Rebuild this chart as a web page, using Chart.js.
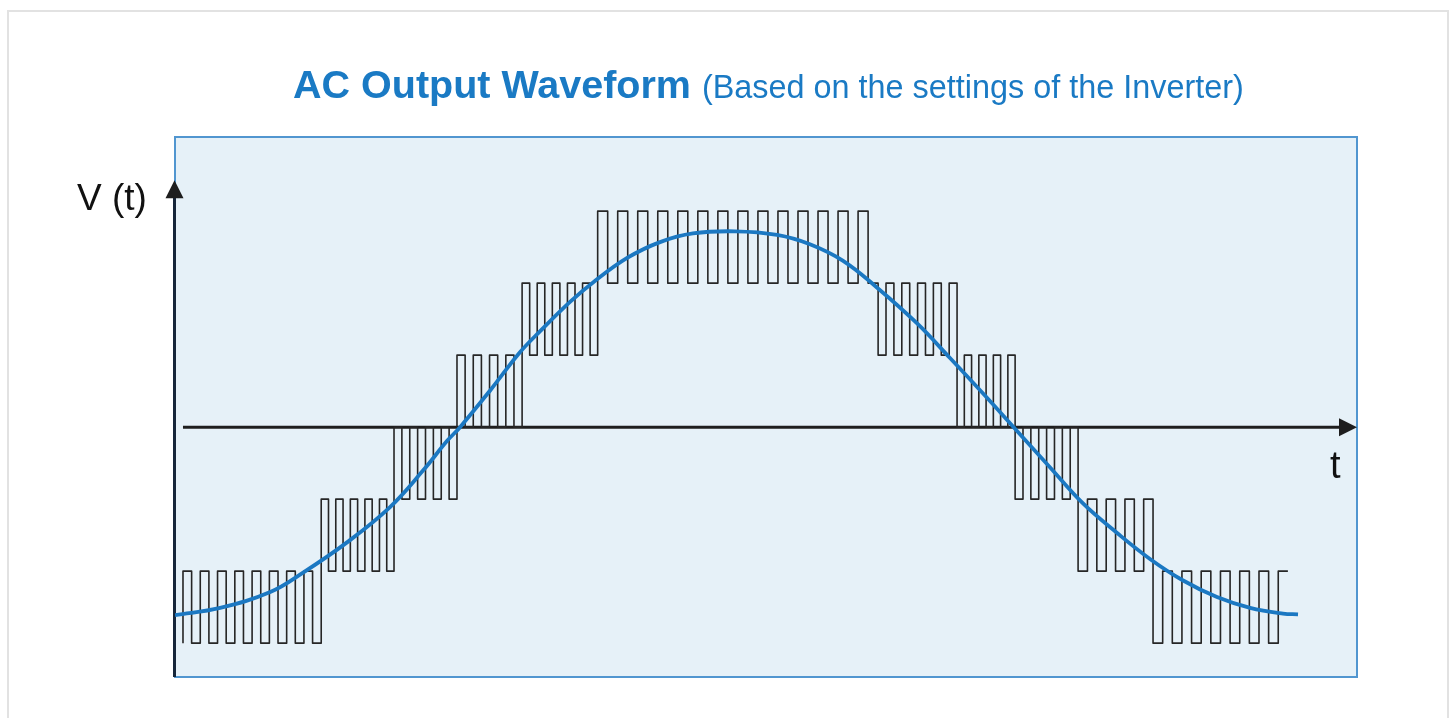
<!DOCTYPE html>
<html>
<head>
<meta charset="utf-8">
<title>AC Output Waveform</title>
<script src="https://cdn.jsdelivr.net/npm/chart.js@4.4.0/dist/chart.umd.min.js"></script>
<style>
	html, body { margin: 0; padding: 0; background: #fff; }
	body { width: 1450px; height: 718px; position: relative; overflow: hidden; font-family: "Liberation Sans", Arial, sans-serif; }
	#frame { position: absolute; left: 7px; top: 10px; width: 1438px; height: 720px; border: 2px solid #e2e2e2; border-bottom: none; }
	#wrap { position: absolute; left: 0; top: 0; width: 1450px; height: 718px; }
	.lbl { position: absolute; white-space: nowrap; }
	#title { left: 293px; top: 65px; font-size: 39.5px; line-height: 39px; font-weight: bold; color: #1a7ac4; }
	#title span { font-size: 32.4px; font-weight: normal; }
	#vlabel { left: 77px; top: 179px; font-size: 37px; line-height: 37px; color: #111; }
	#tlabel { left: 1330px; top: 446px; font-size: 38px; line-height: 38px; color: #111; }
</style>
</head>
<body>
<div id="frame"></div>
<div id="wrap"><canvas id="myChart"></canvas></div>
<div class="lbl" id="title">AC Output Waveform <span>(Based on the settings of the Inverter)</span></div>
<div class="lbl" id="vlabel">V (t)</div>
<div class="lbl" id="tlabel">t</div>

<script>
// time axis in degrees of the AC cycle, voltage in inverter steps
var xMin = -92.8, xMax = 292.0;
var yMin = -3.47, yMax = 4.03;

// blue sine (output after filtering)
var sineT = [-92.8, -78.1, -61.8, -51.1, -36.8, -22.8, -12.0, -4.2, 0, 9.8, 19.5, 26.0, 35.8, 43.3, 54.4, 65.1, 75.8, 89.5,
	103.2, 113.9, 124.7, 135.7, 148.8, 159.5, 170.2, 180.0, 192.1, 202.8, 213.9, 224.6, 235.4, 246.4, 257.2, 267.9, 272.8];
var sineV = [-2.61, -2.51, -2.29, -2.02, -1.60, -1.11, -0.60, -0.19, 0, 0.51, 1.04, 1.33, 1.74, 2.01, 2.35, 2.57, 2.69, 2.72,
	2.67, 2.54, 2.31, 1.94, 1.44, 0.96, 0.47, 0.01, -0.56, -1.06, -1.47, -1.83, -2.13, -2.36, -2.51, -2.59, -2.60];

// stepped PWM waveform: one entry per voltage step
var stepStart = [-90.2, -45.2, -21.5, -1.0, 20.2, 44.8, 136.1, 161.8, 180.7, 201.2, 225.6];
var stepEnd = [-45.2, -21.5, -1.0, 20.2, 44.8, 136.1, 161.8, 180.7, 201.2, 225.6, 269.5];
var stepLow = [-3, -2, -1, 0, 1, 2, 1, 0, -1, -2, -3];
var stepHigh = [-2, -1, 0, 1, 2, 3, 2, 1, 0, -1, -2];
var stepPulses = [8, 5, 4, 4, 5, 14, 5, 4, 4, 4, 7];
var stepLowFirst = [false, false, false, false, false, false, true, true, true, true, true];

// axis arrows (data units)
var xAxisFrom = -90.2;
var yAxisTip = 3.43;

function buildPwm() {
	var pts = [];
	for (var r = 0; r < stepStart.length; r++) {
		var xs = stepStart[r];
		var half = (stepEnd[r] - xs) / (2 * stepPulses[r]);
		if (r === 0) pts.push({ x: xs, y: stepLow[r] });
		for (var j = 0; j < 2 * stepPulses[r]; j++) {
			var high = (j % 2 === 0) !== stepLowFirst[r];
			var lvl = high ? stepHigh[r] : stepLow[r];
			pts.push({ x: xs + j * half, y: lvl });
			pts.push({ x: xs + (j + 1) * half, y: lvl });
		}
	}
	return pts;
}

var sinePts = sineT.map(function (t, i) { return { x: t, y: sineV[i] }; });

var panel = {
	id: "panel",
	beforeDatasetsDraw: function (chart) {
		var c = chart.ctx, a = chart.chartArea;
		var xs = chart.scales.x, ys = chart.scales.y;
		c.save();
		c.fillStyle = "#e6f1f8";
		c.fillRect(a.left, a.top, a.right - a.left, a.bottom - a.top);
		c.strokeStyle = "#5196d0";
		c.lineWidth = 2;
		c.strokeRect(a.left, a.top, a.right - a.left, a.bottom - a.top);

		// x axis with arrow
		var y0 = ys.getPixelForValue(0);
		var xa = xs.getPixelForValue(xAxisFrom);
		var xb = xs.getPixelForValue(xMax);
		c.strokeStyle = "#1e1e1e";
		c.fillStyle = "#1e1e1e";
		c.lineWidth = 3;
		c.beginPath();
		c.moveTo(xa, y0);
		c.lineTo(xb - 12, y0);
		c.stroke();
		c.beginPath();
		c.moveTo(xb, y0);
		c.lineTo(xb - 18, y0 - 9);
		c.lineTo(xb - 18, y0 + 9);
		c.closePath();
		c.fill();

		// y axis with arrow
		var xl = a.left - 0.5;
		var yt = ys.getPixelForValue(yAxisTip);
		c.strokeStyle = "#17263a";
		c.fillStyle = "#1e1e1e";
		c.beginPath();
		c.moveTo(xl, a.bottom);
		c.lineTo(xl, yt + 12);
		c.stroke();
		c.beginPath();
		c.moveTo(xl, yt);
		c.lineTo(xl - 9, yt + 18);
		c.lineTo(xl + 9, yt + 18);
		c.closePath();
		c.fill();
		c.restore();
	}
};

var ctx = document.getElementById("myChart").getContext("2d");
var myChart = new Chart(ctx, {
	type: "scatter",
	data: {
		datasets: [
			{
				label: "Sine",
				data: sinePts,
				showLine: true,
				borderColor: "#1b78c2",
				borderWidth: 3.8,
				pointRadius: 0,
				tension: 0.4,
				order: 0,
			},
			{
				label: "PWM",
				data: buildPwm(),
				showLine: true,
				borderColor: "#262626",
				borderWidth: 1.6,
				pointRadius: 0,
				tension: 0,
				borderJoinStyle: "round",
				order: 1,
			},
		],
	},
	options: {
		animation: false,
		responsive: true,
		maintainAspectRatio: false,
		layout: { padding: { left: 175, top: 137, right: 93, bottom: 41 } },
		plugins: { legend: { display: false }, tooltip: { enabled: false } },
		scales: {
			x: { type: "linear", display: false, min: xMin, max: xMax },
			y: { display: false, min: yMin, max: yMax },
		},
	},
	plugins: [panel],
});
</script>
</body>
</html>
